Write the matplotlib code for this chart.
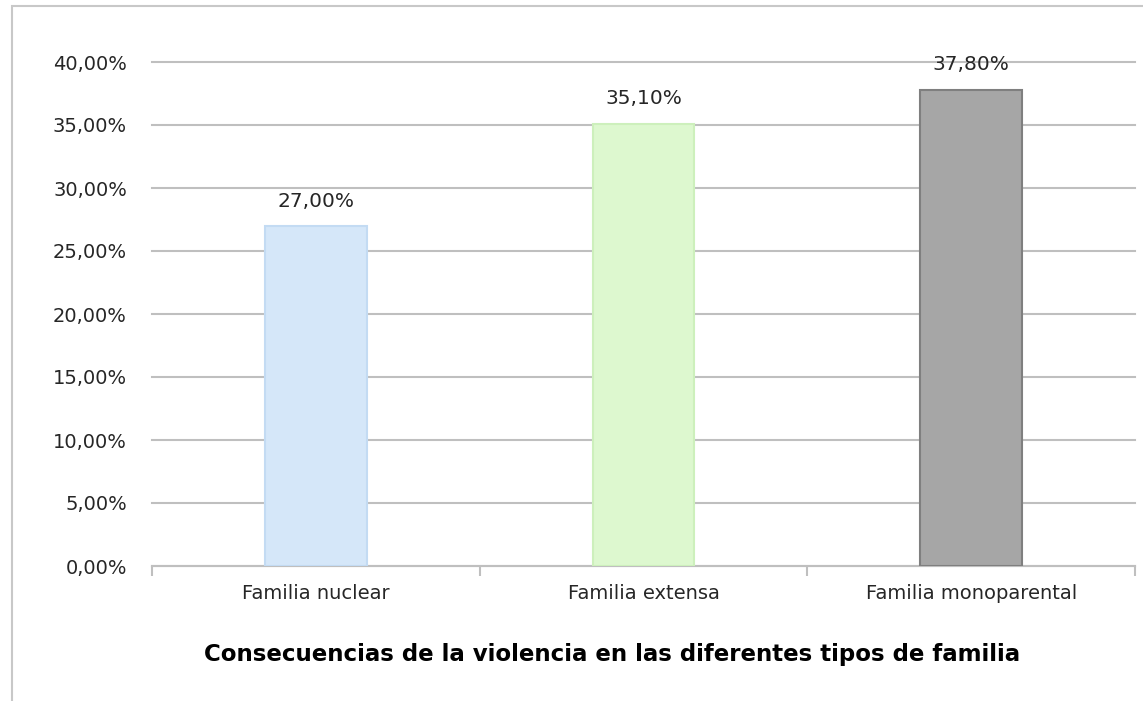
import matplotlib.pyplot as plt
from matplotlib.patches import Rectangle
from matplotlib.ticker import FuncFormatter, FixedLocator

# data
categories = ['Familia nuclear', 'Familia extensa', 'Familia monoparental']
values = [27.00, 35.10, 37.80]
bar_colors = ['#d5e7f9', '#ddf8cf', '#a6a6a6']
edge_colors = ['#c3dbf3', '#cdf0bc', '#7f7f7f']
y_ticks = [0, 5, 10, 15, 20, 25, 30, 35, 40]
title = 'Consecuencias de la violencia en las diferentes tipos de familia'

def pct(v):
    return f'{v:.2f}%'.replace('.', ',')

fig = plt.figure(figsize=(11.43, 7.01), dpi=100)
ax = fig.add_axes([152 / 1143, 1 - 566 / 701, (1135 - 152) / 1143, (566 - 62) / 701])

x = range(len(categories))
bars = ax.bar(x, values, width=0.31, color=bar_colors, edgecolor=edge_colors,
              linewidth=1.5, zorder=3)

ax.set_xlim(-0.5, len(categories) - 0.5)
ax.set_ylim(0, 40)
ax.set_yticks(y_ticks)
ax.yaxis.set_major_formatter(FuncFormatter(lambda v, p: pct(v)))
ax.grid(axis='y', color='#bfbfbf', linewidth=1.5, zorder=0)
for gl in ax.yaxis.get_gridlines():
    gl.set_clip_on(False)

# category labels, boundary tick marks
ax.set_xticks(list(x))
ax.set_xticklabels(categories)
ax.xaxis.set_minor_locator(FixedLocator([-0.5, 0.5, 1.5, 2.5]))
ax.tick_params(axis='x', which='major', length=0, pad=13, labelsize=14, colors='#262626')
ax.tick_params(axis='x', which='minor', length=7, width=1.5, color='#bfbfbf')
ax.tick_params(axis='y', length=0, pad=18, labelsize=14, labelcolor='#262626')

for s in ['left', 'right', 'top']:
    ax.spines[s].set_visible(False)
ax.spines['bottom'].set_color('#bfbfbf')
ax.spines['bottom'].set_linewidth(1.5)

for b, v in zip(bars, values):
    ax.annotate(pct(v), (b.get_x() + b.get_width() / 2, v), xytext=(0, 11),
                textcoords='offset points', ha='center', va='bottom',
                fontsize=14.5, color='#262626')

fig.text(612 / 1143, 1 - 655 / 701, title, ha='center', va='center',
         fontsize=16.5, fontweight='bold', color='#000000')

# chart frame on left and top like the reference crop
fig.add_artist(Rectangle((12 / 1143, -0.05), 1.2, 1 - 6 / 701 + 0.05,
                         transform=fig.transFigure, fill=False,
                         edgecolor='#c8c8c8', linewidth=1.5))

fig.savefig('out.png', dpi=100, facecolor='white')
